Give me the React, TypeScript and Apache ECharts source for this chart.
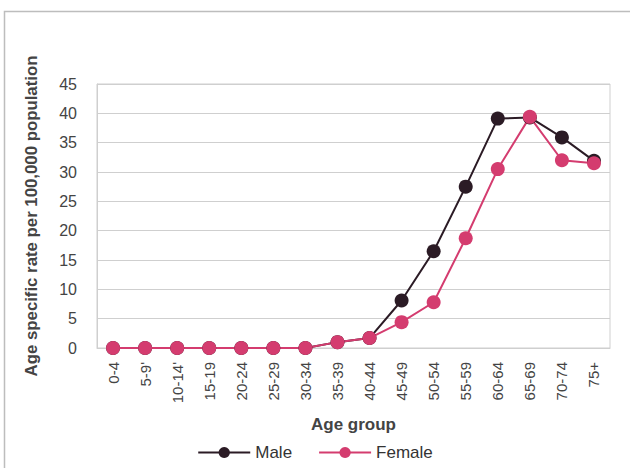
import React, { useEffect, useRef } from "react";
import * as echarts from "echarts";

const categories = ["0-4", "5-9'", "10-14'", "15-19", "20-24", "25-29", "30-34", "35-39", "40-44", "45-49", "50-54", "55-59", "60-64", "65-69", "70-74", "75+"];
const maleValues = [0, 0, 0, 0, 0, 0, 0, 1.0, 1.7, 8.1, 16.5, 27.5, 39.1, 39.3, 35.9, 31.9];
const femaleValues = [0, 0, 0, 0, 0, 0, 0, 1.0, 1.7, 4.4, 7.8, 18.7, 30.5, 39.4, 32.0, 31.5];

const MALE = "#2b1b25";
const FEMALE = "#d43c6f";
const FONT = "'Liberation Sans', Arial, sans-serif";

export default function App() {
  const ref = useRef<HTMLDivElement>(null);
  useEffect(() => {
    if (!ref.current) return;
    const chart = echarts.init(ref.current, null, { renderer: "svg" });
    chart.setOption({
      animation: false,
      backgroundColor: "#ffffff",
      graphic: [
        {
          type: "rect",
          z: 100,
          shape: { x: 4.5, y: 11.5, width: 640, height: 480 },
          style: { fill: "none", stroke: "#bdbdbd", lineWidth: 1.5 },
          silent: true,
        },
      ],
      grid: {
        left: 97,
        right: 20,
        top: 84,
        bottom: 120,
        outerBoundsMode: "none",
        containLabel: false,
        show: true,
        borderColor: "#cfcfcf",
        borderWidth: 1,
      },
      legend: {
        top: 439,
        left: "center",
        itemWidth: 52,
        itemHeight: 14,
        itemGap: 26,
        textStyle: { fontFamily: FONT, fontSize: 17, color: "#333" },
        data: ["Male", "Female"],
      },
      xAxis: {
        type: "category",
        data: categories,
        boundaryGap: true,
        name: "Age group",
        nameLocation: "middle",
        nameGap: 68,
        nameTextStyle: { fontFamily: FONT, fontSize: 17, fontWeight: "bold", color: "#444" },
        axisLine: { show: true, lineStyle: { color: "#cfcfcf" } },
        axisTick: { show: false },
        axisLabel: { rotate: 90, fontFamily: FONT, fontSize: 15, color: "#444", margin: 14 },
      },
      yAxis: {
        type: "value",
        min: 0,
        max: 45,
        interval: 5,
        name: "Age specific rate per 100,000 population",
        nameLocation: "middle",
        nameGap: 57,
        nameTextStyle: { fontFamily: FONT, fontSize: 16.8, fontWeight: "bold", color: "#444" },
        axisLine: { show: true, lineStyle: { color: "#cfcfcf" } },
        axisTick: { show: false },
        splitLine: { show: true, lineStyle: { color: "#cfcfcf", width: 1 } },
        axisLabel: { fontFamily: FONT, fontSize: 16, color: "#444", margin: 20 },
      },
      series: [
        {
          name: "Male",
          type: "line",
          data: maleValues,
          symbol: "circle",
          symbolSize: 14,
          itemStyle: { color: MALE },
          lineStyle: { color: MALE, width: 2 },
        },
        {
          name: "Female",
          type: "line",
          data: femaleValues,
          symbol: "circle",
          symbolSize: 14,
          itemStyle: { color: FEMALE },
          lineStyle: { color: FEMALE, width: 2 },
        },
      ],
    });
    return () => chart.dispose();
  }, []);
  return (
    <div
      ref={ref}
      style={{ position: "fixed", left: 0, top: 0, width: 630, height: 468 }}
    />
  );
}
